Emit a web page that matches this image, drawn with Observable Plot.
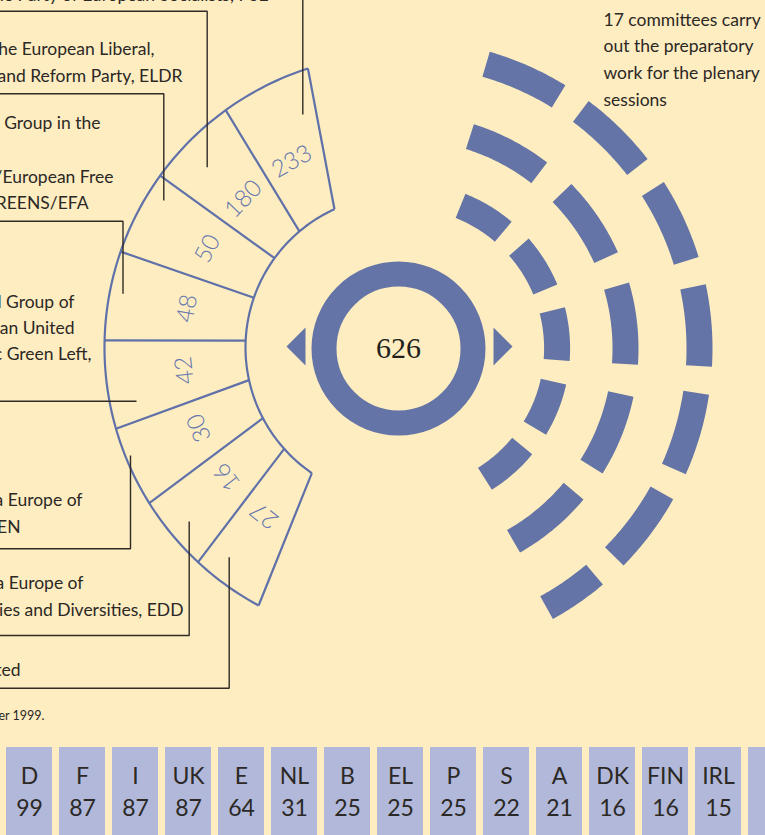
<!DOCTYPE html>
<html><head><meta charset="utf-8">
<script src="https://cdn.jsdelivr.net/npm/d3@7"></script>
<script src="https://cdn.jsdelivr.net/npm/@observablehq/plot@0.6"></script>
<style>
html,body{margin:0;padding:0;background:#feedc1;}
#chart{width:765px;height:835px;overflow:hidden;}
#chart svg{display:block;}
</style></head><body><div id="chart"></div>
<script>
// ---------- DATA ----------
const groups = ["EPP-ED","PSE","ELDR","GREENS/EFA","GUE/NGL","UEN","EDD","NI"];
const seats  = [233, 180, 50, 48, 42, 30, 16, 27];
const totalSeats = 626;
const groupText = [
  [],
  ["Group of the Party of European Socialists, PSE"],
  ["Group of the European Liberal,", "Democrat and Reform Party, ELDR"],
  ["Green Group in the", "Greens/European Free", "Alliance, GREENS/EFA"],
  ["Confederal Group of", "the European United", "Left/Nordic Green Left,"],
  ["Union for a Europe of", "Nations, UEN"],
  ["Group for a Europe of", "Democracies and Diversities, EDD"],
  ["Non-affiliated"]
];
const footnote = "Situation as at 1 December 1999.";
const countries    = ["D","F","I","UK","E","NL","B","EL","P","S","A","DK","FIN","IRL","L"];
const countrySeats = [99, 87, 87, 87, 64, 31, 25, 25, 25, 22, 21, 16, 16, 15, 6];
const committeesPerRow = [5, 5, 7];   // 17 committees
const committeeNote = ["17 committees carry","out the preparatory","work for the plenary","sessions"];

// ---------- LAYOUT ----------
const W = 765, H = 835;
const BLUE = "#6474a6", LINE = "#5f71a8", INK = "#2b2825", BOX = "#b1b8d9", BG = "#feedc1";
const fan = {cx: 397, cy: 347, rIn: 152, rOut: 293, rLabel: 214,
  thIn:  [65.5, 49.8, 36.0, 19.1, 2.6, -12.4, -27.7, -41.8, -55.7],
  thOut: [72.2, 54.1, 35.9, 19.1, 1.4, -16.1, -32.1, -47.1, -61.7]};
const rad = Math.PI / 180;
const fx = (r, th) => fan.cx - r * Math.cos(th * rad);
const fy = (r, th) => fan.cy - r * Math.sin(th * rad);

// label line anchors (right end x, baseline y) per group
const textLayout = [
  [],
  [[268, 0]],
  [[154, 54], [182, 81]],
  [[100, 128], [113, 182], [88, 208]],
  [[74, 307], [74, 333], [91, 359]],
  [[82, 505], [20, 532]],
  [[83, 588], [183, 615]],
  [[20, 675]]
];
const leaderLayout = [
  [[302.3, -5], [302.3, 114]],
  [[-5, 10.7], [206.7, 10.7], [206.7, 166.7]],
  [[-5, 93.3], [163.3, 93.3], [163.3, 200]],
  [[-5, 220.7], [122.5, 220.7], [122.5, 293.3]],
  [[-5, 400.7], [136, 400.7]],
  [[-5, 548.3], [130, 548.3], [130, 455]],
  [[-5, 635], [188.7, 635], [188.7, 521]],
  [[-5, 687.7], [228.7, 687.7], [228.7, 556.7]]
];
const ring = {cx: 398, cy: 348, r: 74.5, w: 25};
const dashC = {cx: 403, cy: 348, w: 26,
  r: [153.6, 222, 296], start: [-68.2, -72.6, -73.8], len: [18.7, 20.3, 15.4],
  period: [26.9, 28.15, 20.6], end: [58, 60.5, 61.1]};
const box = {x0: 6, pitch: 53, w: 46, y1: 747, y2: 850};

// ---------- DERIVED TABLES ----------
const labelRows = groupText.flatMap((lines, g) => lines.map((t, j) => ({
  text: t, x: textLayout[g][j][0], y: textLayout[g][j][1]})));
labelRows.push({text: footnote, x: 44, y: 719, small: true});

const leaderRows = leaderLayout.flatMap((pts, g) => pts.map(p => ({g: groups[g], x: p[0], y: p[1]})));

const steps = n => d3.range(n + 1).map(j => j / n);
const arcPts = (r, a0, a1, key) => steps(120).map(t => {
  const th = a0 + (a1 - a0) * t; return {k: key, x: fx(r, th), y: fy(r, th)};});
const fanArcs = [...arcPts(fan.rOut, fan.thOut[0], fan.thOut[8], "out"),
                 ...arcPts(fan.rIn, fan.thIn[0], fan.thIn[8], "in")];
const dividers = fan.thIn.map((t, k) => ({x1: fx(fan.rIn, t), y1: fy(fan.rIn, t),
  x2: fx(fan.rOut, fan.thOut[k]), y2: fy(fan.rOut, fan.thOut[k])}));
const wedgeLabels = groups.map((g, i) => {
  const th = (fan.thIn[i] + fan.thIn[i + 1] + fan.thOut[i] + fan.thOut[i + 1]) / 4;
  return {g, seats: seats[i], x: fx(fan.rLabel, th), y: fy(fan.rLabel, th), rot: th - 90};
});

const dashes = [];
committeesPerRow.forEach((n, row) => {
  for (let k = 0; k < n; k++) {
    const a0 = dashC.start[row] + k * dashC.period[row];
    const a1 = Math.min(a0 + dashC.len[row], dashC.end[row]);
    steps(30).forEach(t => {
      const a = (a0 + (a1 - a0) * t) * rad;
      dashes.push({id: row + "-" + k, x: dashC.cx + dashC.r[row] * Math.cos(a), y: dashC.cy + dashC.r[row] * Math.sin(a)});
    });
  }
});

const triangles = [
  {id: "L", x: 286, y: 346}, {id: "L", x: 305, y: 327}, {id: "L", x: 305, y: 365},
  {id: "R", x: 512, y: 346}, {id: "R", x: 493, y: 327}, {id: "R", x: 493, y: 365}
];

const boxes = countries.map((c, i) => ({c, n: countrySeats[i], x1: box.x0 + box.pitch * i, x2: box.x0 + box.pitch * i + box.w}));

// ---------- PLOT ----------
const chart = Plot.plot({
  width: W, height: H, margin: 0,
  x: {domain: [0, W], range: [0, W], axis: null},
  y: {domain: [0, H], range: [0, H], axis: null},
  style: {background: BG, fontFamily: "Lato, 'Open Sans', sans-serif", overflow: "hidden"},
  marks: [
    // committees (dashed rings)
    Plot.line(dashes, {x: "x", y: "y", z: "id", stroke: BLUE, strokeWidth: dashC.w, strokeLinecap: "butt", strokeLinejoin: "round", curve: "linear"}),
    // plenary ring + arrows
    Plot.dot([ring], {x: "cx", y: "cy", r: ring.r, fill: "none", stroke: BLUE, strokeWidth: ring.w}),
    Plot.line(triangles, {x: "x", y: "y", z: "id", fill: BLUE, stroke: "none"}),
    Plot.text([totalSeats], {x: ring.cx, y: 357, text: d => String(d), fontSize: 30, fontFamily: "'Liberation Serif', 'DejaVu Serif', serif", fill: "#231f1c", lineAnchor: "bottom"}),
    // fan of political groups
    Plot.line(fanArcs, {x: "x", y: "y", z: "k", stroke: LINE, strokeWidth: 2.2, strokeLinecap: "butt"}),
    Plot.link(dividers, {x1: "x1", y1: "y1", x2: "x2", y2: "y2", stroke: LINE, strokeWidth: 2.2}),
    Plot.text(wedgeLabels, {x: "x", y: "y", text: d => String(d.seats), rotate: "rot", fontSize: 24, fontWeight: 300, fill: "#6677ad"}),
    // leaders + labels
    Plot.line(leaderRows, {x: "x", y: "y", z: "g", stroke: "#302b27", strokeWidth: 1.4, strokeLinecap: "butt", strokeLinejoin: "miter"}),
    Plot.text(labelRows.filter(d => !d.small), {x: "x", y: "y", text: "text", textAnchor: "end", lineAnchor: "bottom", fontSize: 17.5, fill: INK}),
    Plot.text(labelRows.filter(d => d.small), {x: "x", y: "y", text: "text", textAnchor: "end", lineAnchor: "bottom", fontSize: 12.5, fill: INK}),
    // committee note
    Plot.text(committeeNote, {x: 603, y: (d, i) => 25 + 26.7 * i, text: d => d, textAnchor: "start", lineAnchor: "bottom", fontSize: 17.5, fill: INK}),
    // member states
    Plot.rect(boxes, {x1: "x1", x2: "x2", y1: box.y1, y2: box.y2, fill: BOX}),
    Plot.text(boxes, {x: d => (d.x1 + d.x2) / 2, y: 783, text: "c", lineAnchor: "bottom", fontSize: 23, fill: INK}),
    Plot.text(boxes, {x: d => (d.x1 + d.x2) / 2, y: 815, text: d => String(d.n), lineAnchor: "bottom", fontSize: 23, fill: INK})
  ]
});
document.getElementById("chart").appendChild(chart);
</script></body></html>
